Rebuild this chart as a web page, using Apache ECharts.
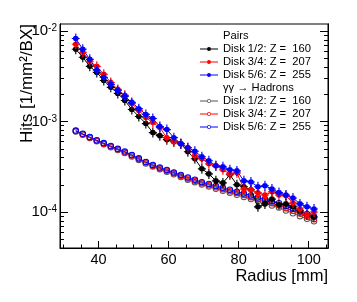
<!DOCTYPE html>
<html><head><meta charset="utf-8">
<script src="https://cdn.jsdelivr.net/npm/echarts@6/dist/echarts.min.js"></script>
<style>html,body{margin:0;padding:0;background:#fff}#c{width:357px;height:302px}</style>
</head><body><div id="c"></div>
<script>
// ---- data ----
const radius = [33.5,35.5,37.5,39.5,41.5,43.5,45.5,47.5,49.5,51.5,53.5,55.5,57.5,59.5,61.5,63.5,65.5,67.5,69.5,71.5,73.5,75.5,77.5,79.5,81.5,83.5,85.5,87.5,89.5,91.5,93.5,95.5,97.5,99.5,101.5];
const pairsDisk12 = [6.31e-3,5.14e-3,4.08e-3,3.50e-3,2.85e-3,2.39e-3,2.05e-3,1.71e-3,1.36e-3,1.14e-3,9.50e-4,7.55e-4,6.99e-4,6.31e-4,5.99e-4,5.69e-4,4.64e-4,3.88e-4,3.00e-4,2.64e-4,2.21e-4,2.10e-4,2.58e-4,2.00e-4,1.90e-4,1.76e-4,1.14e-4,1.23e-4,1.39e-4,1.20e-4,1.23e-4,1.14e-4,1.03e-4,9.26e-5,8.80e-5];
const pairsDisk34 = [7.17e-3,5.84e-3,4.64e-3,4.08e-3,3.33e-3,2.71e-3,2.27e-3,1.95e-3,1.58e-3,1.33e-3,1.11e-3,9.75e-4,8.58e-4,6.64e-4,5.99e-4,5.69e-4,5.14e-4,4.19e-4,3.88e-4,3.41e-4,3.24e-4,2.93e-4,2.64e-4,2.71e-4,1.80e-4,1.76e-4,1.63e-4,1.54e-4,1.67e-4,1.54e-4,1.51e-4,1.26e-4,1.08e-4,9.26e-5,1.00e-4];
const pairsDisk56 = [8.30e-3,6.31e-3,4.88e-3,3.69e-3,3.08e-3,2.58e-3,2.21e-3,1.90e-3,1.63e-3,1.39e-3,1.20e-3,1.08e-3,8.80e-4,8.15e-4,6.64e-4,5.69e-4,5.14e-4,4.70e-4,4.08e-4,3.69e-4,3.24e-4,3.16e-4,2.93e-4,2.85e-4,2.21e-4,2.15e-4,1.90e-4,1.95e-4,1.80e-4,1.64e-4,1.54e-4,1.43e-4,1.23e-4,1.14e-4,1.08e-4];
const hadronsDisk12 = [7.75e-4,7.15e-4,6.60e-4,6.05e-4,5.62e-4,5.20e-4,4.85e-4,4.50e-4,4.12e-4,3.77e-4,3.44e-4,3.18e-4,2.98e-4,2.79e-4,2.61e-4,2.44e-4,2.28e-4,2.14e-4,2.01e-4,1.91e-4,1.81e-4,1.72e-4,1.63e-4,1.55e-4,1.47e-4,1.39e-4,1.32e-4,1.25e-4,1.18e-4,1.12e-4,1.04e-4,9.70e-5,9.00e-5,8.40e-5,7.90e-5];
const hadronsDisk34 = [7.85e-4,7.25e-4,6.66e-4,6.15e-4,5.70e-4,5.30e-4,4.93e-4,4.58e-4,4.21e-4,3.85e-4,3.52e-4,3.25e-4,3.05e-4,2.86e-4,2.68e-4,2.51e-4,2.35e-4,2.21e-4,2.08e-4,1.98e-4,1.88e-4,1.79e-4,1.70e-4,1.62e-4,1.54e-4,1.46e-4,1.39e-4,1.32e-4,1.25e-4,1.19e-4,1.10e-4,1.03e-4,9.60e-5,8.90e-5,8.30e-5];
const hadronsDisk56 = [7.95e-4,7.32e-4,6.75e-4,6.22e-4,5.78e-4,5.37e-4,5.00e-4,4.66e-4,4.28e-4,3.92e-4,3.58e-4,3.32e-4,3.11e-4,2.92e-4,2.74e-4,2.57e-4,2.41e-4,2.27e-4,2.14e-4,2.04e-4,1.94e-4,1.85e-4,1.76e-4,1.68e-4,1.60e-4,1.52e-4,1.45e-4,1.38e-4,1.31e-4,1.25e-4,1.16e-4,1.09e-4,1.02e-4,9.50e-5,8.90e-5];
const xMajorTicks = [40,60,80,100];
const xMinorTicks = [30,35,45,50,55,65,70,75,85,90,95,105];
const yMajorTicks = [1e-4,1e-3,1e-2];
const yMinorTicks = [5e-5,6e-5,7e-5,8e-5,9e-5,2e-4,3e-4,4e-4,5e-4,6e-4,7e-4,8e-4,9e-4,2e-3,3e-3,4e-3,5e-3,6e-3,7e-3,8e-3,9e-3];
const legendLabels = {
  hdrPairs: 'Pairs',
  p12: 'Disk 1/2: Z =  160', p34: 'Disk 3/4: Z =  207', p56: 'Disk 5/6: Z =  255',
  hdrHad: 'γγ → Hadrons',
  h12: 'Disk 1/2: Z =  160', h34: 'Disk 3/4: Z =  207', h56: 'Disk 5/6: Z =  255'
};
// ---- chart ----
const FONT = 'Liberation Sans';
const xRange = [29, 105.5];
const yRange = [4e-5, 0.012];
const crossSym = 'path://M0,8h14v2h-14z M6,0h2v18h-2z M7,4A5,5 0 1,1 6.99,4Z';
const ringSym = 'path://M6,0A6,6 0 1,1 5.99,0Z M6,1.9A4.1,4.1 0 1,0 6.01,1.9Z';
const legPair = 'path://M0,1.5h18v1h-18z M9,0A2,2 0 1,1 8.99,0Z';
const legHad = 'path://M0,1.5h7v1h-7z M11,1.5h7v1h-7z M9,0A2,2 0 1,1 8.99,0Z M9,0.8A1.2,1.2 0 1,0 9.01,0.8Z';

function xAxisDef(ticks, len, labels, line) {
  return {type:'value', min:xRange[0], max:xRange[1], position:'bottom',
    axisLine:{show:line, lineStyle:{color:'#000', width:1}},
    axisTick:{show:true, inside:true, length:len, customValues:ticks, lineStyle:{color:'#000', width:1}},
    axisLabel:{show:labels, customValues:ticks, color:'#000', fontSize:14.5, fontFamily:FONT, margin:4},
    splitLine:{show:false}};
}
function yAxisDef(pos, ticks, len, labels) {
  return {type:'log', logBase:10, min:yRange[0], max:yRange[1], position:pos,
    axisLine:{show:true, lineStyle:{color:'#000', width:1}},
    axisTick:{show:true, inside:true, length:len, customValues:ticks, lineStyle:{color:'#000', width:1}},
    axisLabel:{show:labels, customValues:ticks, margin:3,
      formatter: v => '{b|10}{s|' + Math.round(Math.log10(v)) + '}',
      rich:{b:{fontSize:15, fontFamily:FONT, color:'#000'}, s:{fontSize:10, fontFamily:FONT, color:'#000', verticalAlign:'top'}}},
    splitLine:{show:false}};
}
function pairSeries(name, vals, color) {
  return {name, type:'line', data: radius.map((r,i)=>[r, vals[i]]), symbol:crossSym, symbolSize:[8,10],
    itemStyle:{color, borderWidth:0}, lineStyle:{color, width:1}, z:3};
}
function hadSeries(name, vals, color) {
  return {name, type:'line', data: radius.map((r,i)=>[r, vals[i]]), symbol:ringSym, symbolSize:6.5,
    itemStyle:{color, borderWidth:0}, lineStyle:{color, width:1}, z:2};
}
const chart = echarts.init(document.getElementById('c'));
chart.setOption({
  animation:false,
  backgroundColor:'#fff',
  grid:{left:60, top:24, width:268, height:224, show:true, borderColor:'#000', borderWidth:1, backgroundColor:'transparent'},
  xAxis:[xAxisDef(xMajorTicks,7,true,true), xAxisDef(xMinorTicks,3.5,false,false)],
  yAxis:[yAxisDef('left',yMajorTicks,8,true), yAxisDef('left',yMinorTicks,4,false),
         yAxisDef('right',yMajorTicks,8,false), yAxisDef('right',yMinorTicks,4,false)],
  legend:{orient:'vertical', left:200, top:29.5, padding:0, itemGap:0, itemWidth:18, itemHeight:4,
    textStyle:{fontSize:11.2, fontFamily:FONT, color:'#000', lineHeight:13},
    formatter: n => legendLabels[n],
    data:[{name:'hdrPairs', icon:legPair}, {name:'p12', icon:legPair}, {name:'p34', icon:legPair}, {name:'p56', icon:legPair},
          {name:'hdrHad', icon:legPair}, {name:'h12', icon:legHad}, {name:'h34', icon:legHad}, {name:'h56', icon:legHad}]},
  graphic:[
    {type:'text', x:328, y:276, style:{text:'Radius [mm]', font:'16.5px "Liberation Sans"', fill:'#000', align:'right', verticalAlign:'middle', textAlign:'right', textVerticalAlign:'middle'}},
    {type:'text', x:27, y:24, rotation:Math.PI/2, style:{text:'Hits [1/mm²/BX]', font:'17px "Liberation Sans"', fill:'#000', align:'right', verticalAlign:'middle', textAlign:'right', textVerticalAlign:'middle'}}
  ],
  series:[
    {name:'hdrPairs', type:'line', data:[], itemStyle:{color:'rgba(0,0,0,0)'}, lineStyle:{color:'rgba(0,0,0,0)'}},
    {name:'hdrHad', type:'line', data:[], itemStyle:{color:'rgba(0,0,0,0)'}, lineStyle:{color:'rgba(0,0,0,0)'}},
    hadSeries('h12', hadronsDisk12, '#555555'),
    hadSeries('h34', hadronsDisk34, '#ff0000'),
    hadSeries('h56', hadronsDisk56, '#0000ff'),
    pairSeries('p12', pairsDisk12, '#000000'),
    pairSeries('p34', pairsDisk34, '#ff0000'),
    pairSeries('p56', pairsDisk56, '#0000ff')
  ]
});
</script></body></html>
